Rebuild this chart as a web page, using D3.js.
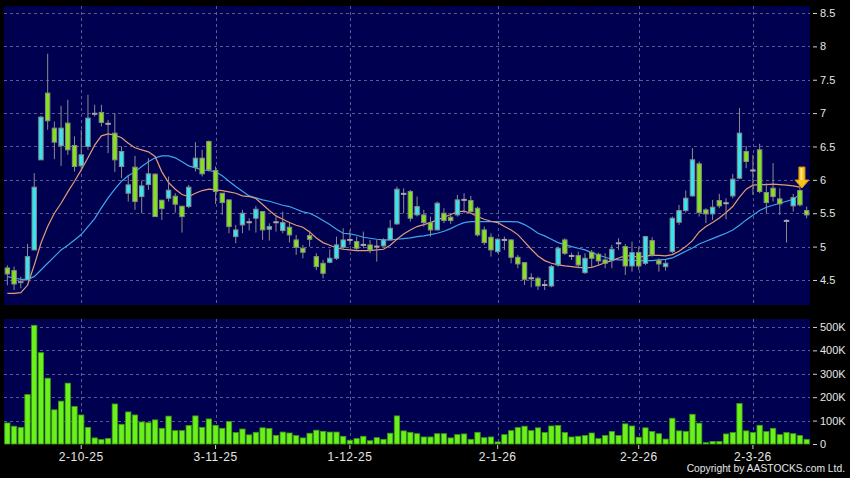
<!DOCTYPE html>
<html><head><meta charset="utf-8">
<script src="https://cdn.jsdelivr.net/npm/d3@7"></script>
<style>html,body{margin:0;padding:0;background:#000;} svg{display:block;}</style>
</head><body><svg id="c" width="850" height="478"></svg>
<script>
// ---- data ----
const openP = [4.68,4.64,4.46,4.5,4.95,6.3,7.3,6.775,6.51,6.85,
 6.515,6.21,6.5,6.99,7.01,6.84,6.7,6.2,5.8,6.19,
 5.75,5.93,6.085,5.695,5.725,5.755,5.605,5.6,6.185,6.325,
 6.575,6.14,5.8,5.7,5.15,5.325,5.365,5.425,5.525,5.26,
 5.365,5.24,5.29,5.1,4.975,5.165,4.85,4.75,4.765,4.825,
 4.99,5.1,5.075,5.025,5.025,5.0,5.01,5.1,5.34,5.79,
 5.825,5.475,5.475,5.36,5.25,5.5,5.44,5.475,5.7,5.69,
 5.575,5.25,5.14,4.925,5.1,5.1,4.84,4.76,4.525,4.525,
 4.425,4.41,4.725,5.1,4.86,4.865,4.61,4.915,4.885,4.8,
 4.79,5.05,5.0,4.71,4.91,4.75,5.09,4.79,4.7,4.925,
 5.365,5.54,5.76,6.24,5.55,5.49,5.69,5.65,5.76,6.025,
 6.425,6.14,6.45,5.81,5.875,5.715,5.385,5.61,5.84,5.54];
const highP = [4.72,4.70,4.55,5.04,6.1,6.96,7.89,6.875,7.11,7.2,
 6.65,6.75,7.275,7.125,7.125,6.9,7.0,6.5,6.075,6.36,
 5.99,6.325,6.1,5.7,6.05,5.8,5.61,5.925,6.565,6.45,
 6.59,6.2,5.8,5.7,5.325,5.55,5.425,5.61,5.525,5.35,
 5.46,5.525,5.36,5.175,5.025,5.24,4.9,4.8,4.96,5.15,
 5.275,5.25,5.15,5.225,5.1,5.1,5.125,5.4,5.9,5.875,
 5.85,5.75,5.55,5.45,5.675,5.575,5.5,5.775,5.8,5.76,
 5.6,5.3,5.2,5.125,5.15,5.11,4.875,4.76,4.6,4.55,
 4.5,4.725,5.0,5.125,4.91,4.925,4.9,4.95,4.91,4.9,
 5.025,5.125,5.04,5.075,5.0,5.16,5.14,4.825,4.81,5.45,
 5.625,5.84,6.475,6.275,5.575,5.7,5.79,5.725,6.09,7.075,
 6.51,6.375,6.54,5.95,6.25,5.875,5.41,5.79,5.9,5.6];
const lowP = [4.42,4.35,4.375,4.5,4.95,6.3,6.75,6.31,6.21,6.375,
 6.125,6.15,6.45,6.95,6.8,6.4,6.12,6.025,5.675,5.55,
 5.5,5.85,5.45,5.4,5.675,5.51,5.21,5.575,6.125,6.05,
 6.125,5.64,5.475,5.2,5.05,5.2,5.24,5.21,5.1,5.09,
 5.225,5.2,5.06,4.875,4.825,5.0,4.65,4.525,4.75,4.8,
 4.95,5.025,4.95,4.975,4.9,4.775,5.0,5.09,5.325,5.5,
 5.375,5.45,5.3,5.15,5.24,5.35,5.34,5.45,5.5,5.5,
 5.15,5.025,4.85,4.9,4.95,4.75,4.675,4.425,4.39,4.35,
 4.35,4.39,4.7,4.875,4.8,4.675,4.59,4.675,4.71,4.675,
 4.675,4.95,4.575,4.625,4.65,4.725,4.85,4.625,4.64,4.9,
 5.325,5.51,5.75,5.45,5.35,5.4,5.575,5.41,5.725,6.01,
 6.175,5.775,5.8,5.5,5.675,5.475,5.06,5.525,5.6,5.425];
const closeP = [4.59,4.44,4.48,4.85,5.89,6.94,6.885,6.565,6.775,6.45,
 6.2,6.375,6.925,6.99,6.86,6.84,6.3,6.425,5.925,5.675,
 5.91,6.09,5.45,5.57,5.845,5.635,5.45,5.89,6.325,6.09,
 6.15,5.825,5.66,5.3,5.25,5.5,5.365,5.56,5.25,5.3,
 5.365,5.36,5.175,4.99,4.915,5.11,4.7,4.6,4.825,5.025,
 5.1,5.1,4.975,5.025,4.95,5.0,5.1,5.275,5.86,5.79,
 5.425,5.6,5.36,5.25,5.65,5.39,5.39,5.7,5.7,5.525,
 5.175,5.06,4.95,5.11,5.1,4.84,4.74,4.51,4.525,4.41,
 4.425,4.7,4.975,4.9,4.86,4.725,4.825,4.825,4.785,4.75,
 4.96,5.05,4.71,4.91,4.71,5.15,4.875,4.74,4.75,5.425,
 5.54,5.725,6.3,5.51,5.49,5.59,5.61,5.65,6.01,6.7,
 6.275,6.14,5.825,5.66,5.75,5.64,5.385,5.735,5.625,5.475];
const volumeK = [90,76,71,211,507,390,281,146,183,260,
 160,124,71,26,19,24,171,84,137,124,
 94,91,103,67,119,57,57,79,120,71,
 107,80,67,96,49,64,39,50,69,66,
 37,51,47,36,26,46,59,54,51,51,
 33,16,23,33,14,27,20,46,120,56,
 50,44,30,30,44,44,26,40,43,20,
 50,27,30,9,40,57,70,76,57,69,
 49,77,79,49,30,33,36,47,23,36,
 53,36,86,77,29,69,53,44,21,110,
 56,54,127,89,6,11,11,43,49,173,
 56,49,80,53,67,40,49,44,36,20];
const maShort = [4.30,4.30,4.31,4.42,4.72,5.05,5.3,5.5,5.65,5.82,
 5.98,6.15,6.33,6.52,6.66,6.69,6.67,6.63,6.55,6.48,
 6.45,6.42,6.35,6.12,5.96,5.86,5.78,5.75,5.8,5.84,
 5.86,5.85,5.84,5.82,5.8,5.76,5.75,5.72,5.63,5.54,
 5.46,5.41,5.36,5.32,5.29,5.22,5.13,5.06,5.02,4.98,
 4.96,4.95,4.94,4.94,4.94,4.95,4.96,5.02,5.11,5.19,
 5.25,5.3,5.33,5.36,5.4,5.44,5.48,5.52,5.53,5.5,
 5.45,5.41,5.38,5.36,5.3,5.25,5.18,5.07,4.96,4.86,
 4.79,4.75,4.725,4.71,4.7,4.69,4.68,4.69,4.72,4.76,
 4.79,4.83,4.86,4.86,4.84,4.86,4.87,4.87,4.86,4.88,
 4.93,5.0,5.09,5.22,5.3,5.36,5.43,5.51,5.6,5.74,
 5.86,5.92,5.93,5.93,5.935,5.93,5.92,5.91,5.89];
const maLong = [4.55,4.53,4.51,4.51,4.55,4.65,4.75,4.85,4.95,5.02,
 5.1,5.18,5.3,5.42,5.58,5.73,5.86,5.98,6.06,6.12,
 6.2,6.27,6.33,6.36,6.36,6.33,6.27,6.21,6.18,6.15,
 6.14,6.12,6.06,5.98,5.9,5.83,5.76,5.73,5.7,5.68,
 5.65,5.62,5.6,5.56,5.52,5.5,5.45,5.39,5.33,5.26,
 5.2,5.19,5.17,5.14,5.125,5.11,5.1,5.1,5.11,5.12,
 5.13,5.15,5.16,5.18,5.2,5.23,5.27,5.32,5.36,5.375,
 5.375,5.375,5.375,5.375,5.375,5.375,5.37,5.33,5.27,5.2,
 5.16,5.11,5.06,5.03,5.0,4.975,4.95,4.91,4.875,4.84,
 4.81,4.8,4.8,4.795,4.79,4.79,4.79,4.8,4.81,4.83,
 4.88,4.93,4.98,5.04,5.08,5.12,5.16,5.2,5.25,5.32,
 5.4,5.47,5.54,5.59,5.62,5.65,5.68,5.71,5.78];
const xTickIdx = [11,31,51,73,94,111];
const xTickLabels = ["2-10-25","3-11-25","1-12-25","2-1-26","2-2-26","2-3-26"];
const priceTicks = [4.5,5,5.5,6,6.5,7,7.5,8,8.5];
const volumeTicks = [0,100000,200000,300000,400000,500000];
const markerIdx = 118;

// ---- drawing ----
const N = closeP.length;
const svg = d3.select("#c");
const P = {x0:4, x1:810, top:6, bot:305};
const V = {top:319, bot:444};
const NAVY = "#000050", GRID = "#5a5a90";

const x = d3.scaleBand().domain(d3.range(N)).range([P.x0, P.x1]);
const bw = x.bandwidth();
const cx = i => x(i) + bw/2;
const y = d3.scaleLinear().domain([4.125, 8.605]).range([P.bot, P.top]);
const yv = d3.scaleLinear().domain([0, 534000]).range([V.bot, V.top]);

svg.append("rect").attr("width",850).attr("height",478).attr("fill","#000");
svg.append("rect").attr("x",P.x0).attr("y",P.top).attr("width",P.x1-P.x0).attr("height",P.bot-P.top).attr("fill",NAVY);
svg.append("rect").attr("x",P.x0).attr("y",V.top).attr("width",P.x1-P.x0).attr("height",V.bot-V.top).attr("fill",NAVY);

const defs = svg.append("defs");
defs.append("clipPath").attr("id","pclip").append("rect")
  .attr("x",P.x0).attr("y",P.top).attr("width",P.x1-P.x0).attr("height",P.bot-P.top);

// grids
const g = svg.append("g").attr("stroke",GRID).attr("stroke-dasharray","3,3").attr("stroke-width",1);
priceTicks.forEach(t => g.append("line").attr("x1",P.x0).attr("x2",P.x1)
  .attr("y1",Math.round(y(t))+0.5).attr("y2",Math.round(y(t))+0.5));
volumeTicks.filter(t=>t>0).forEach(t => g.append("line").attr("x1",P.x0).attr("x2",P.x1)
  .attr("y1",Math.round(yv(t))+0.5).attr("y2",Math.round(yv(t))+0.5));
xTickIdx.forEach(i => {
  const xx = Math.round(cx(i))+0.5;
  g.append("line").attr("x1",xx).attr("x2",xx).attr("y1",P.top).attr("y2",P.bot);
  g.append("line").attr("x1",xx).attr("x2",xx).attr("y1",V.top).attr("y2",V.bot);
});

// MA lines
const plot = svg.append("g").attr("clip-path","url(#pclip)");
const line = d3.line().x((d,i)=>cx(i)).y(d=>y(d)).curve(d3.curveLinear);
plot.append("path").datum(maLong).attr("d",line).attr("fill","none").attr("stroke","#3ea6ea").attr("stroke-width",1.2);
plot.append("path").datum(maShort).attr("d",line).attr("fill","none").attr("stroke","#e49a74").attr("stroke-width",1.2);

// candles
const cg = plot.append("g");
const bodyW = 4.4;
d3.range(N).forEach(i => {
  const o=openP[i], c=closeP[i], h=highP[i], l=lowP[i];
  cg.append("line").attr("x1",cx(i)).attr("x2",cx(i)).attr("y1",y(h)).attr("y2",y(l))
    .attr("stroke","#8c8c8c").attr("stroke-width",1);
  if (Math.abs(o-c) < 1e-9) {
    cg.append("rect").attr("x",cx(i)-bodyW/2-0.5).attr("width",bodyW+1)
      .attr("y",y(c)-1).attr("height",2).attr("fill","#a8a8a8");
  } else {
    const up = c > o;
    cg.append("rect").attr("x",cx(i)-bodyW/2).attr("width",bodyW)
      .attr("y",y(Math.max(o,c))).attr("height",Math.max(1,Math.abs(y(o)-y(c))))
      .attr("fill", up ? "#36e4f2" : "#84e41c")
      .attr("stroke","#8a8a8a").attr("stroke-width",1);
  }
});

// marker arrow
{
  const mx = cx(markerIdx)+2, tip = y(highP[markerIdx]) + 1.5;
  const pts = [[mx-3,tip-21],[mx+3,tip-21],[mx+3,tip-8],[mx+7,tip-8],[mx,tip],[mx-7,tip-8],[mx-3,tip-8]];
  svg.append("path").attr("d","M"+pts.map(p=>p.join(",")).join("L")+"Z")
    .attr("fill","#f6c21c").attr("stroke","#d99a10").attr("stroke-width",1);
  svg.append("rect").attr("x",mx-1.5).attr("y",tip-20).attr("width",2).attr("height",12).attr("fill","#ffe680");
}

// volume bars
svg.append("g").selectAll("rect").data(volumeK).join("rect")
  .attr("x",(d,i)=>x(i)+0.7).attr("width",bw-1.4)
  .attr("y",d=>yv(d*1000)).attr("height",d=>Math.max(0,V.bot-yv(d*1000)))
  .attr("fill","#6af01a").attr("stroke","#3c9a12").attr("stroke-width",0.8);

// axes
const styleAxis = sel => {
  sel.select(".domain").remove();
  sel.selectAll(".tick line").attr("stroke","#d0d0d0");
  sel.selectAll(".tick text").attr("fill","#e6e6e6").style("font-family","'Liberation Sans', Arial, sans-serif").style("font-size","11px");
};
svg.append("g").attr("transform",`translate(813,0)`)
  .call(d3.axisRight(y).tickValues(priceTicks).tickSize(4).tickPadding(3).tickFormat(d3.format("")))
  .call(styleAxis);
svg.append("g").attr("transform",`translate(813,0)`)
  .call(d3.axisRight(yv).tickValues(volumeTicks).tickSize(4).tickPadding(3)
    .tickFormat(d => d===0 ? "0" : (d/1000)+"K"))
  .call(styleAxis);
const xa = svg.append("g").attr("transform",`translate(0,${V.bot+1})`)
  .call(d3.axisBottom(x).tickValues(xTickIdx).tickSize(4).tickPadding(3)
    .tickFormat(i => xTickLabels[xTickIdx.indexOf(i)]))
  .call(styleAxis);
xa.selectAll(".tick text").style("font-size","12px").style("letter-spacing","0.5px");

svg.append("text").attr("x",845).attr("y",472).attr("text-anchor","end")
  .attr("fill","#e6e6e6").style("font-family","'Liberation Sans', Arial, sans-serif")
  .style("font-size","10.3px")
  .text("Copyright by AASTOCKS.com Ltd.");
</script></body></html>
